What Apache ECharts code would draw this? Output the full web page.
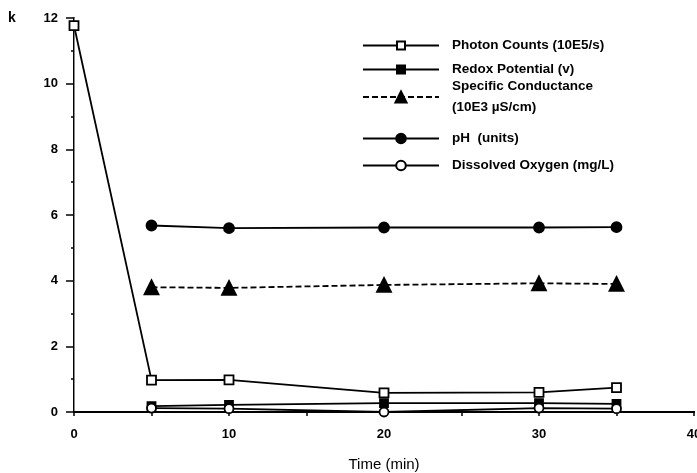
<!DOCTYPE html>
<html>
<head>
<meta charset="utf-8">
<title>Time (min)</title>
<script src="https://cdn.jsdelivr.net/npm/echarts@6/dist/echarts.min.js"></script>
<style>
    html, body { margin: 0; padding: 0; background: #fff; }
    #chart { width: 697px; height: 473px; }
</style>
</head>
<body>
<div id="chart"></div>
<script>
// data
var PHOTON_TIMES = [0, 5, 10, 20, 30, 35];
var PHOTON_COUNTS = [11.77, 0.97, 0.98, 0.58, 0.6, 0.74];

var TIMES = [5, 10, 20, 30, 35];
var REDOX = [0.18, 0.22, 0.27, 0.27, 0.25];
var CONDUCTANCE = [3.8, 3.78, 3.87, 3.92, 3.9];
var PH = [5.68, 5.6, 5.62, 5.62, 5.63];
var OXYGEN = [0.12, 0.1, 0.0, 0.12, 0.1];

var X_TICKS = [0, 10, 20, 30, 40];
var Y_TICKS = [0, 2, 4, 6, 8, 10, 12];

var NAMES = [
    'Photon Counts (10E5/s)',
    'Redox Potential (v)',
    'Specific Conductance',
    'pH  (units)',
    'Dissolved Oxygen (mg/L)'
];

var LABEL_FONT = '"Liberation Sans Narrow", "Liberation Sans", Arial, sans-serif';
var TEXT_FONT = '"Liberation Sans", Arial, sans-serif';

//
function pairs(xs, ys) {
    var out = [];
    for (var i = 0; i < xs.length; i++) {
        out.push([xs[i], ys[i]]);
    }
    return out;
}

//
function lineSeries(name, data, symbol, size, filled, dashed) {
    return {
        name: name,
        type: 'line',
        data: data,
        symbol: symbol,
        symbolSize: size,
        showAllSymbol: true,
        z: 3,
        lineStyle: { color: '#000', width: 1.8, type: dashed ? [6, 3] : 'solid' },
        itemStyle: { color: filled ? '#000' : '#fff', borderColor: '#000', borderWidth: 1.8 },
        emphasis: { disabled: true },
        animation: false
    };
}

//
function legendRow(name, top, size) {
    return {
        data: [name],
        left: 357,
        top: top,
        orient: 'vertical',
        itemWidth: 76,
        itemHeight: size,
        selectedMode: false,
        formatter: function (n) {
            if (n === NAMES[2]) {
                return n + '\n(10E3 \u00b5S/cm)';
            }
            return n;
        },
        textStyle: {
            color: '#000',
            fontFamily: TEXT_FONT,
            fontWeight: 'bold',
            fontSize: 13.5,
            lineHeight: 21,
            padding: [0, 0, 0, 8]
        }
    };
}

var chart = echarts.init(document.getElementById('chart'), null, { renderer: 'canvas' });

var option = {
    backgroundColor: '#fff',
    animation: false,
    grid: { left: 74, right: 3, top: 18, bottom: 61, containLabel: false, outerBoundsMode: 'none' },
    legend: [
        legendRow(NAMES[0], 30, 10),
        legendRow(NAMES[1], 54, 10),
        legendRow(NAMES[2], 71, 14),
        legendRow(NAMES[3], 123, 12),
        legendRow(NAMES[4], 150, 12)
    ],
    xAxis: [{
        type: 'value',
        min: 0,
        max: 40,
        interval: 10,
        name: 'Time (min)',
        nameLocation: 'middle',
        nameGap: 45,
        nameTextStyle: { color: '#000', fontFamily: TEXT_FONT, fontSize: 15 },
        axisLine: { lineStyle: { color: '#000', width: 2 } },
        axisTick: { show: true, length: 4, lineStyle: { color: '#000', width: 1.5 } },
        minorTick: { show: true, splitNumber: 2, length: 4, lineStyle: { color: '#000', width: 1.5 } },
        axisLabel: {
            color: '#000',
            fontFamily: LABEL_FONT,
            fontWeight: 'bold',
            fontSize: 13,
            margin: 16,
            formatter: function (v) { return X_TICKS.indexOf(v) >= 0 ? String(v) : ''; }
        },
        splitLine: { show: false }
    }, {
        // top frame line
        type: 'value',
        position: 'top',
        min: 0,
        max: 40,
        axisLine: { lineStyle: { color: '#000', width: 2 } },
        axisTick: { show: false },
        axisLabel: { show: false },
        splitLine: { show: false }
    }],
    yAxis: [{
        type: 'value',
        min: 0,
        max: 12,
        interval: 2,
        axisLine: { show: true, lineStyle: { color: '#000', width: 2 } },
        axisTick: { show: true, length: 8, lineStyle: { color: '#000', width: 1.5 } },
        minorTick: { show: true, splitNumber: 2, length: 3, lineStyle: { color: '#000', width: 1.5 } },
        axisLabel: {
            color: '#000',
            fontFamily: LABEL_FONT,
            fontWeight: 'bold',
            fontSize: 13,
            margin: 16,
            formatter: function (v) { return Y_TICKS.indexOf(v) >= 0 ? String(v) : ''; }
        },
        splitLine: { show: false }
    }, {
        // faint right edge
        type: 'value',
        position: 'right',
        min: 0,
        max: 12,
        axisLine: { show: true, lineStyle: { color: '#888', width: 1 } },
        axisTick: { show: false },
        axisLabel: { show: false },
        splitLine: { show: false }
    }],
    series: [
        lineSeries(NAMES[0], pairs(PHOTON_TIMES, PHOTON_COUNTS), 'rect', 9, false, false),
        lineSeries(NAMES[1], pairs(TIMES, REDOX), 'rect', 8, true, false),
        lineSeries(NAMES[2], pairs(TIMES, CONDUCTANCE), 'triangle', 14, true, true),
        lineSeries(NAMES[3], pairs(TIMES, PH), 'circle', 10, true, false),
        lineSeries(NAMES[4], pairs(TIMES, OXYGEN), 'circle', 9, false, false)
    ],
    graphic: [{
        type: 'text',
        left: 8,
        top: 11,
        style: { text: 'k', fill: '#000', font: 'bold 14px ' + LABEL_FONT }
    }]
};

chart.setOption(option);
</script>
</body>
</html>
